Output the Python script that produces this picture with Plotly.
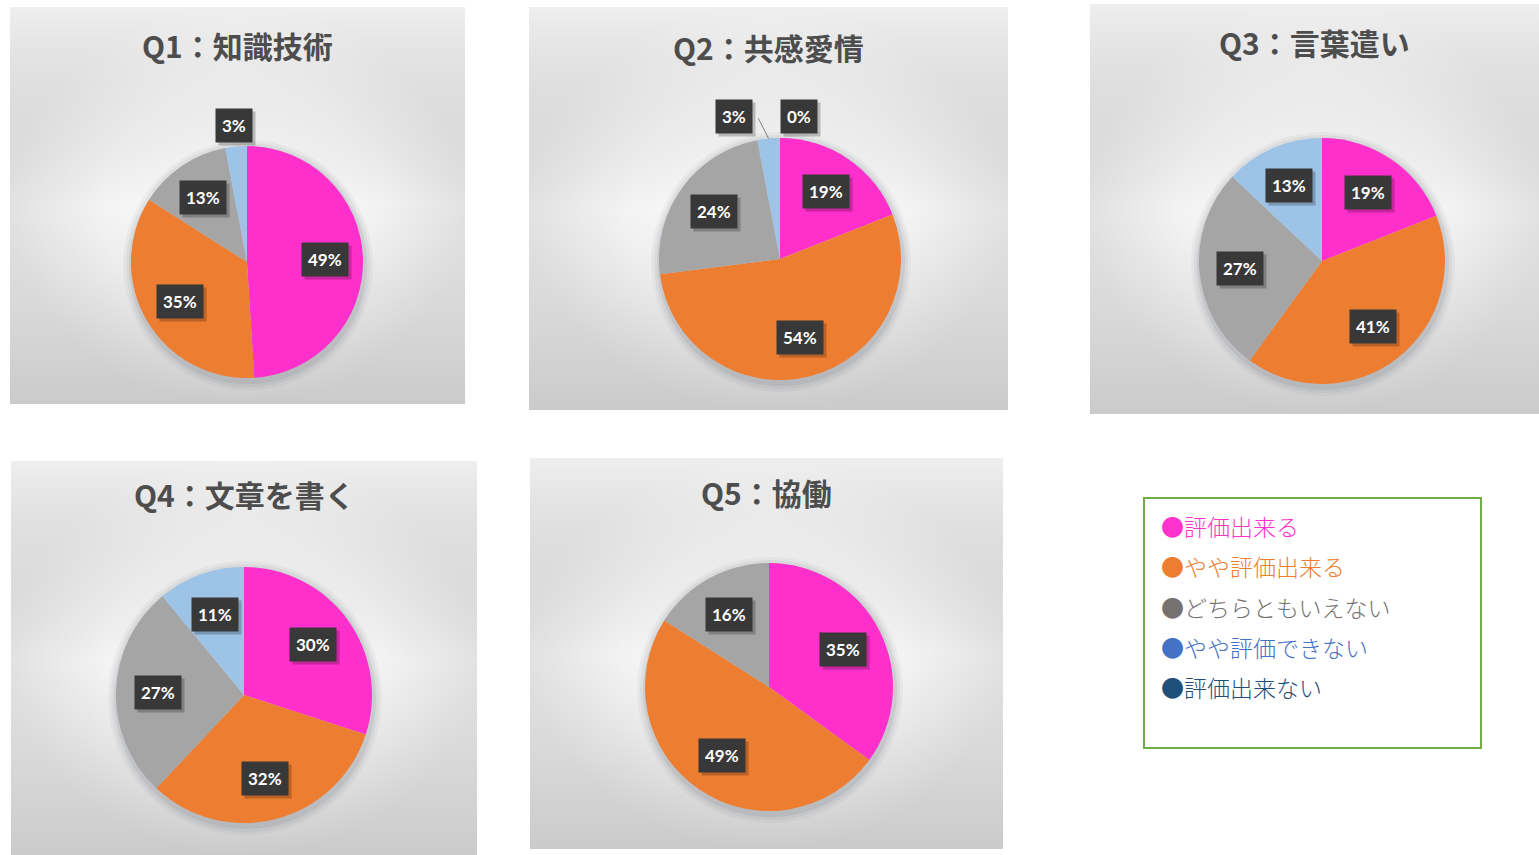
import math
import plotly.graph_objects as go

W, H = 1539, 855

# ---------------- data ----------------
categories = ['評価出来る', 'やや評価出来る', 'どちらともいえない', 'やや評価できない', '評価出来ない']
titles = ['Q1：知識技術', 'Q2：共感愛情', 'Q3：言葉遣い', 'Q4：文章を書く', 'Q5：協働']
q1 = [49, 35, 13, 3, None]
q2 = [19, 54, 24, 3, 0]
q3 = [19, 41, 27, 13, None]
q4 = [30, 32, 27, 11, None]
q5 = [35, 49, 16, None, None]
series = [q1, q2, q3, q4, q5]

# ---------------- style / layout ----------------
pie_colors = ['#FF2FCB', '#ED7D31', '#A5A5A5', '#9DC3E6', '#1F4E79']
legend_colors = ['#FF33CC', '#ED7D31', '#767171', '#4472C4', '#1F4E79']
panels = [(10, 7, 465, 404), (529, 7, 1008, 410), (1090, 4, 1539, 414),
          (11, 461, 477, 855), (530, 458, 1003, 849)]
pie_geo = [(247, 262, 116), (780, 259, 121), (1322, 261, 123), (244, 695, 128), (769, 687, 124)]
title_y = [45, 47, 42, 494, 492]
# horizontal nudges (px) for crowded outside labels: (chart index, slice index) -> dx
label_nudge = {(1, 3): -33, (1, 4): 19}

fig = go.Figure()

# panel backgrounds (radial gradient + lighter top / darker bottom)
for (x0, y0, x1, y1) in panels:
    fig.add_trace(go.Scatter(
        x=[x0, x1, x1, x0, x0], y=[y0, y0, y1, y1, y0],
        mode='lines', line=dict(width=0), fill='toself',
        fillgradient=dict(type='radial',
                          colorscale=[[0, '#ffffff'], [0.6, '#f3f3f3'], [1, '#e2e2e2']]),
        hoverinfo='skip', showlegend=False))
    fig.add_trace(go.Scatter(
        x=[x0, x1, x1, x0, x0], y=[y0, y0, y1, y1, y0],
        mode='lines', line=dict(width=0), fill='toself',
        fillgradient=dict(type='vertical',
                          colorscale=[[0, 'rgba(110,110,110,0.2)'], [0.5, 'rgba(150,150,150,0)'],
                                      [1, 'rgba(255,255,255,0.45)']]),
        hoverinfo='skip', showlegend=False))


def dom(cx, cy, r):
    return dict(x=[(cx - r) / W, (cx + r) / W], y=[1 - (cy + r) / H, 1 - (cy - r) / H])


annotations = []
for i, vals in enumerate(series):
    cx, cy, r = pie_geo[i]
    labs = [c for c, v in zip(categories, vals) if v is not None]
    vs = [v for v in vals if v is not None]
    cols = [pie_colors[k] for k, v in enumerate(vals) if v is not None]
    # soft shadow behind the pie
    for extra, alpha in ((9, 0.05), (6, 0.07), (3, 0.10)):
        fig.add_trace(go.Pie(
            values=[1], labels=['shadow'], sort=False, textinfo='none', hoverinfo='skip',
            marker=dict(colors=[f'rgba(70,80,95,{alpha})'], line=dict(width=0)),
            showlegend=False, domain=dom(cx + 1, cy + 3, r + extra)))
    fig.add_trace(go.Pie(
        labels=labs, values=vs, sort=False, direction='clockwise', rotation=0,
        marker=dict(colors=cols, line=dict(width=0)),
        textinfo='none', hoverinfo='label+percent', showlegend=False,
        domain=dom(cx, cy, r)))

    # data labels
    cum = 0
    total = sum(vs)
    for k, v in enumerate(vals):
        if v is None:
            continue
        mid = (cum + v / 2) / total
        cum += v
        th = 2 * math.pi * mid
        f = 0.67 if v >= 5 else 1.18
        lx = cx + f * r * math.sin(th)
        ly = cy - f * r * math.cos(th)
        nudge = label_nudge.get((i, k), 0)
        lx += nudge
        txt = f'{v}%'
        if nudge < 0:
            # leader line from slice edge to label
            ex = cx + r * math.sin(th)
            ey = cy - r * math.cos(th)
            annotations.append(dict(
                x=ex / W, y=1 - ey / H, xref='paper', yref='paper',
                ax=(lx + 24) - ex, ay=(ly) - ey,
                showarrow=True, arrowhead=0, arrowwidth=1, arrowcolor='#7f7f7f', text=''))
        # shadow
        annotations.append(dict(
            x=lx / W, y=1 - ly / H, xref='paper', yref='paper', showarrow=False,
            xanchor='center', yanchor='middle',
            text=txt, font=dict(family='Lato', size=17, color='rgba(0,0,0,0)', weight='bold'),
            bgcolor='rgba(0,0,0,0.22)', borderpad=6, xshift=3, yshift=-3))
        annotations.append(dict(
            x=lx / W, y=1 - ly / H, xref='paper', yref='paper', showarrow=False,
            xanchor='center', yanchor='middle',
            text=txt, font=dict(family='Lato', size=17, color='white', weight='bold'),
            bgcolor='#383838', borderpad=6))

    # title
    x0, y0, x1, y1 = panels[i]
    annotations.append(dict(
        x=((x0 + x1) / 2) / W, y=1 - title_y[i] / H, xref='paper', yref='paper',
        xanchor='center', yanchor='middle',
        showarrow=False, text=titles[i],
        font=dict(family='Noto Sans CJK JP', size=30, color='#4d4d4d', weight='bold')))

# custom legend
leg_box = (1144, 498, 1481, 748)
leg_y0, leg_dy = 526, 40.3
for k, c in enumerate(categories):
    annotations.append(dict(
        x=1159 / W, y=1 - (leg_y0 + k * leg_dy) / H, xref='paper', yref='paper',
        xanchor='left', yanchor='middle', showarrow=False, text='●' + c,
        font=dict(family='Noto Sans CJK JP', size=23, color=legend_colors[k], weight=300)))

fig.update_layout(
    width=W, height=H, margin=dict(l=0, r=0, t=0, b=0),
    paper_bgcolor='white', plot_bgcolor='rgba(0,0,0,0)',
    xaxis=dict(range=[0, W], visible=False, fixedrange=True),
    yaxis=dict(range=[H, 0], visible=False, fixedrange=True),
    annotations=annotations,
    shapes=[dict(type='rect', xref='paper', yref='paper',
                 x0=leg_box[0] / W, x1=leg_box[2] / W,
                 y0=1 - leg_box[3] / H, y1=1 - leg_box[1] / H,
                 line=dict(color='#70AD47', width=2), fillcolor='white', layer='below')],
    showlegend=False)

fig.write_html('out.html', config={'displayModeBar': False},
               post_script="document.body.style.margin='0';")
